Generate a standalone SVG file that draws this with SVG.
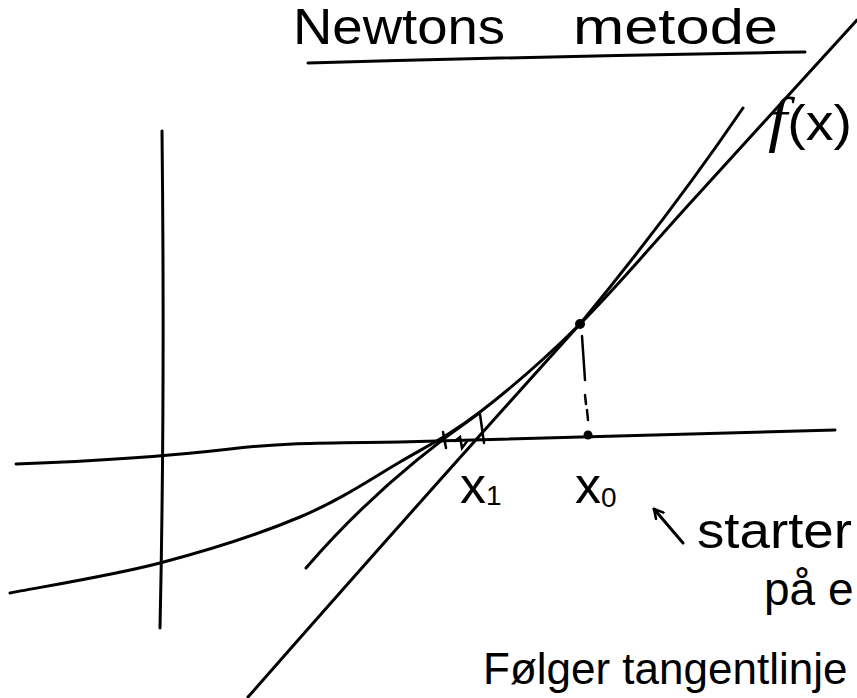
<svg xmlns="http://www.w3.org/2000/svg" width="857" height="698" viewBox="0 0 857 698">
<style>
.pen{fill:none;stroke:#000;stroke-width:3;stroke-linecap:round;stroke-linejoin:round}
.thin{fill:none;stroke:#000;stroke-width:2.5;stroke-linecap:round}
.hand{font-family:"Liberation Sans","DejaVu Sans",sans-serif;fill:#000}
.dot{fill:#000}
</style>
<defs>
<marker id="openhead" viewBox="0 0 12 12" refX="10" refY="6" markerWidth="12" markerHeight="12" markerUnits="userSpaceOnUse" orient="auto">
<path d="M1,1 L10,6 L1,11" fill="none" stroke="#000" stroke-width="2.6" stroke-linecap="round" stroke-linejoin="round"/>
</marker>
</defs>
<rect width="857" height="698" fill="#fff"/>

<g id="title">
<text class="hand" x="293" y="44" font-size="50" textLength="212" lengthAdjust="spacingAndGlyphs">Newtons</text>
<text class="hand" x="573" y="44" font-size="50" textLength="205" lengthAdjust="spacingAndGlyphs">metode</text>
<path class="pen" d="M308,63 Q560,56 805,52"/>
</g>

<g id="axes">
<path class="pen" d="M162,131 Q165,400 160,628"/>
<path class="pen" d="M16,464 C100,461 170,456 230,449 S330,443 400,442 L835,430"/>
</g>

<g id="curve-f">
<path class="pen" d="M10,593 C35,588 111.7,575.7 160,563 C208.3,550.3 260,533.8 300,517 C340,500.2 370,479.5 400,462 C430,444.5 450,435 480,412 C510,389 544.5,359.3 580,324 C615.5,288.7 646.8,250.7 693,200 C739.2,149.3 829.7,50 857,20"/>
<text class="hand" x="768" y="140" font-size="50" textLength="84" lengthAdjust="spacingAndGlyphs"><tspan font-family="Liberation Serif,serif" font-style="italic" font-size="62">f</tspan>(x)</text>
</g>

<g id="tangent-x0">
<path class="pen" d="M248,697 Q430,490 580,324 Q670,215 743,108"/>
<circle class="dot" cx="580" cy="324" r="5"/>
</g>

<g id="tangent-x1">
<path class="pen" d="M306,568 Q380,482 478,414"/>
<path class="thin" d="M480,414 L484,443"/>
<path class="thin" d="M443,432 L446,448"/>
<path class="thin" d="M455,441 L460,437 L462,448 L468,440"/>
</g>

<g id="x0-marker">
<path class="thin" d="M582,336 L585,380 M585,395 L586,404 M587,410 L588,420"/>
<circle class="dot" cx="588" cy="435" r="4.5"/>
</g>

<g id="labels">
<text class="hand" x="460" y="503" font-size="52">x<tspan font-size="28" dy="2">1</tspan></text>
<text class="hand" x="575" y="503" font-size="52">x<tspan font-size="28" dy="4">0</tspan></text>
<text class="hand" x="697" y="548" font-size="50" textLength="155" lengthAdjust="spacingAndGlyphs">starter</text>
<text class="hand" x="764" y="605" font-size="46">på e</text>
<text class="hand" x="483" y="684" font-size="44">Følger tangentlinje</text>
</g>

<g id="connectors">
<path class="pen" d="M683,543 L654,509" marker-end="url(#openhead)"/>
</g>
</svg>
